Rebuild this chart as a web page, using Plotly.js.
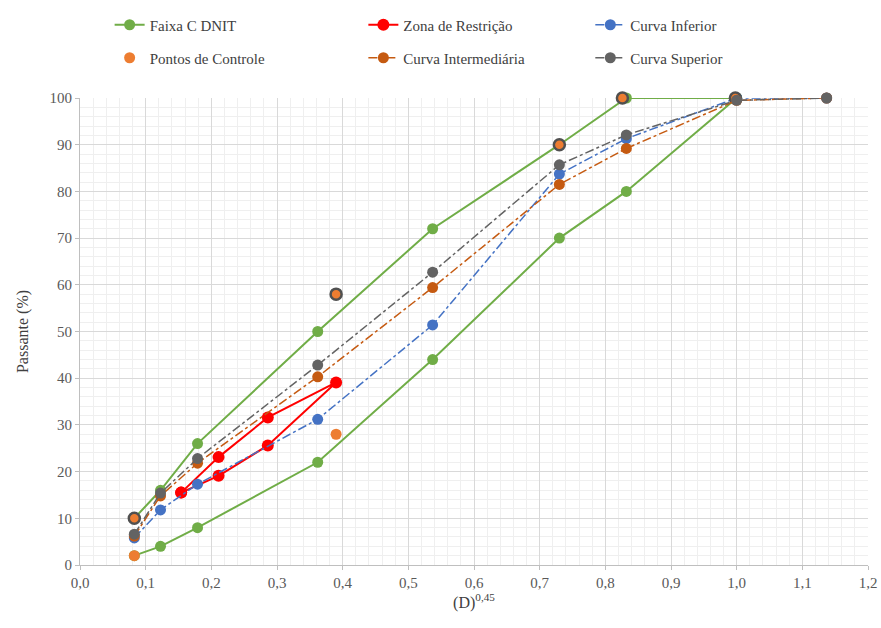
<!DOCTYPE html>
<html>
<head>
<meta charset="utf-8">
<script src="https://cdn.plot.ly/plotly-3.0.1.min.js"></script>
<style>
html,body{margin:0;padding:0;background:#fff;}
#chart{width:881px;height:628px;}
#chart svg text{font-family:"Liberation Serif","Times New Roman",Times,serif !important;}
</style>
</head>
<body>
<div id="chart"></div>
<script>
// ---- Data (x = (D)^0,45 normalised, y = Passante %) ----
const faixaX = [0.0827, 0.1226, 0.179, 0.362, 0.537, 0.730, 0.832, 1.0];
const faixaInf = [2, 4, 8, 22, 44, 70, 80, 100];
const faixaSup = [10, 16, 26, 50, 72, 90, 100, 100];

const zonaX = [0.154, 0.211, 0.286, 0.390, 0.286, 0.211, 0.154];
const zonaY = [15.5, 23.1, 31.6, 39.1, 25.6, 19.1, 15.5];

const curvaX = [0.0827, 0.1226, 0.179, 0.362, 0.537, 0.730, 0.832, 1.0, 1.137];
const curvaInferior = [5.8, 11.8, 17.3, 31.2, 51.4, 83.7, 91.3, 100, 100];
const curvaIntermediaria = [6.2, 14.8, 21.8, 40.3, 59.4, 81.5, 89.2, 99.5, 100];
const curvaSuperior = [6.6, 15.4, 22.8, 42.8, 62.7, 85.7, 92.1, 99.5, 100];

const ctrlInfX = [0.0827, 0.390];
const ctrlInfY = [2, 28];
const ctrlSupX = [0.0827, 0.390, 0.730, 0.826, 0.998];
const ctrlSupY = [10, 58, 90, 100, 100];

const xTicks = [0, 0.1, 0.2, 0.3, 0.4, 0.5, 0.6, 0.7, 0.8, 0.9, 1.0, 1.1, 1.2];
const yTicks = [0, 10, 20, 30, 40, 50, 60, 70, 80, 90, 100];

// ---- Styles ----
const GREEN = '#70ad47', RED = '#ff0000', BLUE = '#4472c4', ORANGE = '#ed7d31', BROWN = '#c55a11', GREY = '#636363';
const MS = 11;

const traces = [
  {x: faixaX, y: faixaInf, name: 'Faixa C DNIT', mode: 'lines+markers', legend: 'legend',
   line: {color: GREEN, width: 2}, marker: {color: GREEN, size: MS}, cliponaxis: false},
  {x: faixaX, y: faixaSup, name: 'Faixa C DNIT', mode: 'lines+markers', legend: 'legend', showlegend: false,
   line: {color: GREEN, width: 2}, marker: {color: GREEN, size: MS}, cliponaxis: false},
  {x: zonaX, y: zonaY, name: 'Zona de Restrição', mode: 'lines+markers', legend: 'legend2',
   line: {color: RED, width: 2}, marker: {color: RED, size: MS + 1}, cliponaxis: false},
  {x: curvaX, y: curvaInferior, name: 'Curva Inferior', mode: 'lines+markers', legend: 'legend3',
   line: {color: BLUE, width: 1.5, dash: 'dashdot'}, marker: {color: BLUE, size: MS}, cliponaxis: false},
  {x: ctrlInfX, y: ctrlInfY, name: 'Pontos de Controle', mode: 'markers', legend: 'legend4',
   marker: {color: ORANGE, size: MS}, cliponaxis: false},
  {x: ctrlSupX, y: ctrlSupY, name: 'Pontos de Controle', mode: 'markers', legend: 'legend4', showlegend: false,
   marker: {color: ORANGE, size: MS, line: {color: '#505050', width: 2.5}}, cliponaxis: false},
  {x: curvaX, y: curvaIntermediaria, name: 'Curva Intermediária', mode: 'lines+markers', legend: 'legend5',
   line: {color: BROWN, width: 1.5, dash: 'dashdot'}, marker: {color: BROWN, size: MS}, cliponaxis: false},
  {x: curvaX, y: curvaSuperior, name: 'Curva Superior', mode: 'lines+markers', legend: 'legend6',
   line: {color: GREY, width: 1.5, dash: 'dashdot'}, marker: {color: GREY, size: MS}, cliponaxis: false}
];

const FONT = 'Liberation Serif';
function leg(x, y) {
  return {x: x, y: y, xref: 'paper', yref: 'container', xanchor: 'left', yanchor: 'middle', orientation: 'h',
          bgcolor: 'rgba(0,0,0,0)', borderwidth: 0,
          font: {family: FONT, size: 15, color: '#404040'}};
}
const r1 = 1 - 25 / 628, r2 = 1 - 58 / 628;
const dx = 0.0076;
const layout = {
  width: 881, height: 628,
  margin: {l: 80, r: 13, t: 98, b: 63},
  paper_bgcolor: '#ffffff', plot_bgcolor: '#ffffff',
  separators: ',.',
  font: {family: FONT, size: 15, color: '#595959'},
  showlegend: true,
  legend: leg(0.030 + dx, r1),
  legend2: leg(0.352 + dx, r1),
  legend3: leg(0.640 + dx, r1),
  legend4: leg(0.030 + dx, r2),
  legend5: leg(0.352 + dx, r2),
  legend6: leg(0.640 + dx, r2),
  xaxis: {
    range: [0, 1.2], tickvals: xTicks, tickformat: '.1f',
    showgrid: true, gridcolor: '#d9d9d9', gridwidth: 1,
    minor: {dtick: 0.02, showgrid: true, gridcolor: '#efefef', gridwidth: 1},
    zeroline: false, showline: true, linecolor: '#bfbfbf', linewidth: 1,
    ticks: 'outside', ticklen: 4, tickcolor: '#bfbfbf',
    tickfont: {family: FONT, size: 15, color: '#595959'},
    title: {text: '(D)<sup>0,45</sup>', font: {family: FONT, size: 16, color: '#404040'}, standoff: 5}
  },
  yaxis: {
    range: [0, 100], tickvals: yTicks,
    showgrid: true, gridcolor: '#d9d9d9', gridwidth: 1,
    minor: {dtick: 2, showgrid: true, gridcolor: '#efefef', gridwidth: 1},
    zeroline: false, showline: true, linecolor: '#bfbfbf', linewidth: 1,
    ticks: 'outside', ticklen: 4, tickcolor: '#bfbfbf',
    tickfont: {family: FONT, size: 15, color: '#595959'},
    title: {text: 'Passante (%)', font: {family: FONT, size: 16, color: '#404040'}, standoff: 16}
  }
};

Plotly.newPlot('chart', traces, layout, {displayModeBar: false, staticPlot: true});
</script>
</body>
</html>
